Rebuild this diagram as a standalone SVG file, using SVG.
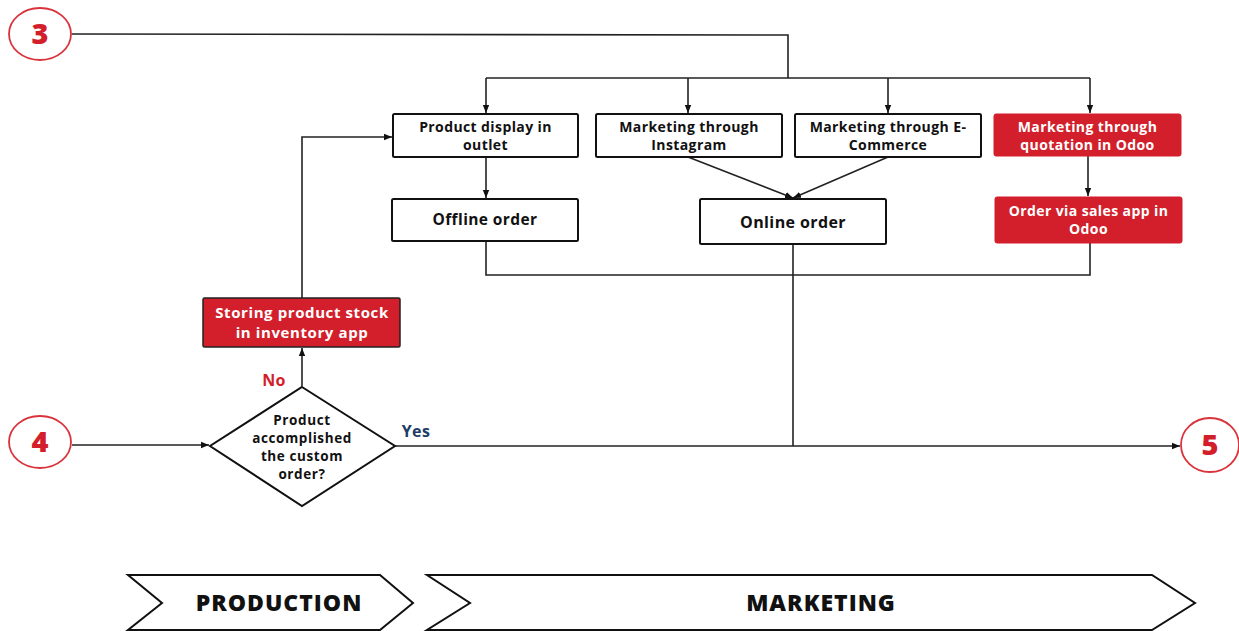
<svg xmlns="http://www.w3.org/2000/svg" width="1239" height="631" viewBox="0 0 1239 631">
<style>
.box{fill:#fff;stroke:#111;stroke-width:2}
.rbox{fill:#d21f2b;stroke:#d21f2b;stroke-width:1}
.rboxd{fill:#d21f2b;stroke:#222;stroke-width:1.5}
.t{font-family:"Open Sans","Liberation Sans",sans-serif;font-weight:bold;font-size:14px;letter-spacing:0.4px;fill:#111;text-anchor:middle}
.tw{fill:#fff}
.dt{font-size:13.5px;letter-spacing:0.6px}
.circ{fill:#fff;stroke:#d9343c;stroke-width:1.8}
.num{font-family:"Open Sans","Liberation Sans",sans-serif;font-weight:800;font-size:29px;fill:#d21f2b;text-anchor:middle}
.ln{fill:none;stroke:#222;stroke-width:1.6}
.chev{fill:#fff;stroke:#111;stroke-width:2}
.ct{font-family:"Open Sans","Liberation Sans",sans-serif;font-weight:800;font-size:23px;letter-spacing:1px;fill:#111;text-anchor:middle}
</style>
<defs>
<marker id="ah" viewBox="0 0 10 10" refX="10" refY="5" markerWidth="8" markerHeight="8" markerUnits="userSpaceOnUse" orient="auto">
<path d="M0,1 L10,5 L0,9 Z" fill="#111"/>
</marker>
</defs>
<g id="connectors">
<path class="ln" d="M72,34 L788,35 L788,78"/>
<path class="ln" d="M486,78 L1090,78"/>
<path class="ln" d="M486,78 L486,113" marker-end="url(#ah)"/>
<path class="ln" d="M688,78 L688,113" marker-end="url(#ah)"/>
<path class="ln" d="M888,78 L888,113" marker-end="url(#ah)"/>
<path class="ln" d="M1090,78 L1090,113" marker-end="url(#ah)"/>
<path class="ln" d="M486,157 L486,198" marker-end="url(#ah)"/>
<path class="ln" d="M688,157 L793,198" marker-end="url(#ah)"/>
<path class="ln" d="M888,157 L793,198" marker-end="url(#ah)"/>
<path class="ln" d="M1088,156 L1088,196" marker-end="url(#ah)"/>
<path class="ln" d="M486,241 L486,275 L1090,275 L1090,243"/>
<path class="ln" d="M793,244 L793,446"/>
<path class="ln" d="M72,445 L209,445" marker-end="url(#ah)"/>
<path class="ln" d="M395,446 L1180,446" marker-end="url(#ah)"/>
<path class="ln" d="M302,386 L302,348" marker-end="url(#ah)"/>
<path class="ln" d="M302,298 L302,137 L392,137" marker-end="url(#ah)"/>
</g>
<g id="c3"><ellipse class="circ" cx="40" cy="34" rx="31" ry="26"/><text class="num" x="40" y="44">3</text></g>
<g id="c4"><ellipse class="circ" cx="40" cy="442" rx="31" ry="26"/><text class="num" x="40" y="452">4</text></g>
<g id="c5"><ellipse class="circ" cx="1210" cy="445" rx="29" ry="27"/><text class="num" x="1210" y="455">5</text></g>
<g id="n-display"><rect class="box" x="393" y="114" width="185" height="43" rx="1.5"/><text class="t" x="485.5" y="132">Product display in</text><text class="t" x="485.5" y="150">outlet</text></g>
<g id="n-instagram"><rect class="box" x="596" y="114" width="186" height="43" rx="1.5"/><text class="t" x="689" y="132">Marketing through</text><text class="t" x="689" y="150">Instagram</text></g>
<g id="n-ecommerce"><rect class="box" x="795" y="114" width="186" height="43" rx="1.5"/><text class="t" x="888" y="132">Marketing through E-</text><text class="t" x="888" y="150">Commerce</text></g>
<g id="n-quotation"><rect class="rbox" x="994" y="114" width="187" height="42" rx="2"/><text class="t tw" x="1087.5" y="131.5">Marketing through</text><text class="t tw" x="1087.5" y="149.5">quotation in Odoo</text></g>
<g id="n-offline"><rect class="box" x="392" y="199" width="186" height="42" rx="1.5"/><text class="t" x="485" y="225" style="font-size:15.5px">Offline order</text></g>
<g id="n-online"><rect class="box" x="700" y="199" width="186" height="45" rx="1.5"/><text class="t" x="793" y="227.5" style="font-size:16px">Online order</text></g>
<g id="n-sales"><rect class="rbox" x="995" y="197" width="187" height="46" rx="2"/><text class="t tw" x="1088.5" y="215.5">Order via sales app in</text><text class="t tw" x="1088.5" y="234">Odoo</text></g>
<g id="n-storing"><rect class="rboxd" x="203" y="298" width="197" height="49" rx="1.5"/><text class="t tw" x="302" y="317.5" style="font-size:15px;letter-spacing:0.6px">Storing product stock</text><text class="t tw" x="302" y="338" style="font-size:15px;letter-spacing:0.6px">in inventory app</text></g>
<g id="n-decision"><polygon class="box" points="302,387 395,446 302,506 210,446"/>
<text class="t dt" x="302" y="424.5">Product</text><text class="t dt" x="302" y="442.5">accomplished</text><text class="t dt" x="302" y="460.5">the custom</text><text class="t dt" x="302" y="478.5">order?</text></g>
<g id="labels">
<text class="t" x="274" y="386" style="font-size:16px;fill:#d21f2b">No</text>
<text class="t" x="416" y="437" style="font-size:16px;fill:#1d3c66">Yes</text>
</g>
<g id="s-production"><polygon class="chev" points="128,575 380,575 413,603 380,630 128,630 162,603"/><text class="ct" x="279" y="611">PRODUCTION</text></g>
<g id="s-marketing"><polygon class="chev" points="427,575 1152,575 1195,603 1152,630 427,630 470,603"/><text class="ct" x="821" y="611">MARKETING</text></g>
</svg>
